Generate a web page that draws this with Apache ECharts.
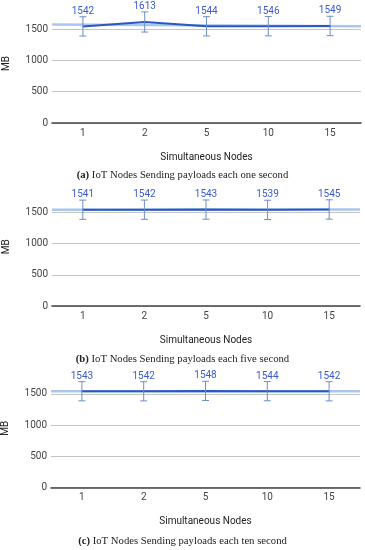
<!DOCTYPE html>
<html>
<head>
<meta charset="utf-8">
<script src="https://cdn.jsdelivr.net/npm/echarts@6/dist/echarts.min.js"></script>
<style>
html,body{margin:0;padding:0;background:#fff;}
#c{width:365px;height:550px;}
</style>
</head>
<body>
<div id="c"></div>
<script>
const categories = ['1', '2', '5', '10', '15'];
const valuesA = [1542, 1613, 1544, 1546, 1549];
const valuesB = [1541, 1542, 1543, 1539, 1545];
const valuesC = [1543, 1542, 1548, 1544, 1542];
const errorsA = [154, 161, 154, 155, 155];
const errorsB = [154, 154, 154, 154, 155];
const errorsC = [154, 154, 155, 154, 154];
const yTicks = [0, 500, 1000, 1500];
const captions = [
  ['(a)', ' IoT Nodes Sending payloads each one second'],
  ['(b)', ' IoT Nodes Sending payloads each five second'],
  ['(c)', ' IoT Nodes Sending payloads each ten second']
];
const xName = 'Simultaneous Nodes';
const yName = 'MB';

const LINE = '#2b58c0', LABEL = '#3a5acd', ERR = '#6e8dc8', TREND = '#a9c6ee';
const FONT = 'Roboto';

function trend(vals) {
  const n = vals.length;
  const mx = (n - 1) / 2;
  const my = vals.reduce((a, b) => a + b, 0) / n;
  let sxy = 0, sxx = 0;
  vals.forEach((v, i) => { sxy += (i - mx) * (v - my); sxx += (i - mx) * (i - mx); });
  const b = sxy / sxx, a = my - b * mx;
  return [[-0.5, a + b * -0.5], [n - 0.5, a + b * (n - 0.5)]];
}

function errRender(params, api) {
  const x = api.value(0), lo = api.value(1), hi = api.value(2);
  const t = api.coord([x, hi]), b = api.coord([x, lo]);
  const hw = 3.5;
  const st = { stroke: ERR, lineWidth: 1 };
  return {
    type: 'group',
    children: [
      { type: 'line', shape: { x1: t[0], y1: t[1], x2: b[0], y2: b[1] }, style: st },
      { type: 'line', shape: { x1: t[0] - hw, y1: t[1], x2: t[0] + hw, y2: t[1] }, style: st },
      { type: 'line', shape: { x1: b[0] - hw, y1: b[1], x2: b[0] + hw, y2: b[1] }, style: st }
    ]
  };
}

const grids = [
  { left: 52, right: 4, top: 4, height: 119, outerBoundsMode: 'none', containLabel: false },
  { left: 52, right: 5, top: 187.3, height: 118.7, outerBoundsMode: 'none', containLabel: false },
  { left: 51, right: 5, top: 369, height: 118.3, outerBoundsMode: 'none', containLabel: false }
];
const capTops = [169.5, 353.5, 536];
const sets = [[valuesA, errorsA], [valuesB, errorsB], [valuesC, errorsC]];

const xAxis = [], yAxis = [], series = [], title = [];
grids.forEach((g, k) => {
  xAxis.push({
    type: 'category', gridIndex: k, data: categories, boundaryGap: true,
    name: xName, nameLocation: 'middle', nameGap: 29.5,
    nameTextStyle: { fontFamily: FONT, fontSize: 10, color: '#222' },
    axisLine: { show: true, lineStyle: { color: '#444', width: 1.6 } },
    axisTick: { show: false },
    axisLabel: { margin: 5, fontFamily: FONT, fontSize: 10, color: '#444' }
  });
  yAxis.push({
    type: 'value', gridIndex: k, min: 0, max: 1900, interval: 500,
    name: yName, nameLocation: 'middle', nameGap: 41, nameRotate: 90,
    nameTextStyle: { fontFamily: FONT, fontSize: 10, color: '#222' },
    axisLine: { show: false }, axisTick: { show: false },
    axisLabel: { margin: 4, fontFamily: FONT, fontSize: 10, color: '#444', showMaxLabel: false,
      formatter: v => (yTicks.indexOf(v) >= 0 ? String(v) : '') },
    splitLine: { show: true, showMaxLine: false, lineStyle: { color: '#c4c4c4', width: 1 } }
  });
  title.push({
    text: '{b|' + captions[k][0] + '}' + captions[k][1],
    left: 'center', top: capTops[k], padding: 0,
    textStyle: {
      fontFamily: 'Liberation Serif', fontSize: 10.7, fontWeight: 'normal', color: '#222',
      rich: { b: { fontFamily: 'Liberation Serif', fontSize: 10.7, fontWeight: 'bold', color: '#222' } }
    }
  });
});
grids.forEach((g, k) => {
  xAxis.push({ type: 'value', gridIndex: k, min: -0.5, max: 4.5, show: false });
});
sets.forEach(([vals, errs], k) => {
  series.push({
    type: 'line', xAxisIndex: 3 + k, yAxisIndex: k, data: trend(vals),
    symbol: 'none', lineStyle: { color: TREND, width: 2.5 }, silent: true, z: 2
  });
  series.push({
    type: 'line', xAxisIndex: k, yAxisIndex: k, data: vals,
    symbol: 'circle', symbolSize: 1, showSymbol: true,
    itemStyle: { color: LINE },
    lineStyle: { color: LINE, width: 2 }, z: 3,
    label: { show: true, position: 'top', distance: 9.5, fontFamily: FONT, fontSize: 10, color: LABEL }
  });
  series.push({
    type: 'custom', xAxisIndex: k, yAxisIndex: k,
    data: vals.map((v, i) => [i, v - errs[i], v + errs[i]]),
    renderItem: errRender, z: 4, silent: true
  });
});

const chart = echarts.init(document.getElementById('c'), null, { renderer: 'canvas' });
chart.setOption({
  animation: false,
  backgroundColor: '#fff',
  grid: grids,
  title: title,
  xAxis: xAxis,
  yAxis: yAxis,
  series: series
});
</script>
</body>
</html>
